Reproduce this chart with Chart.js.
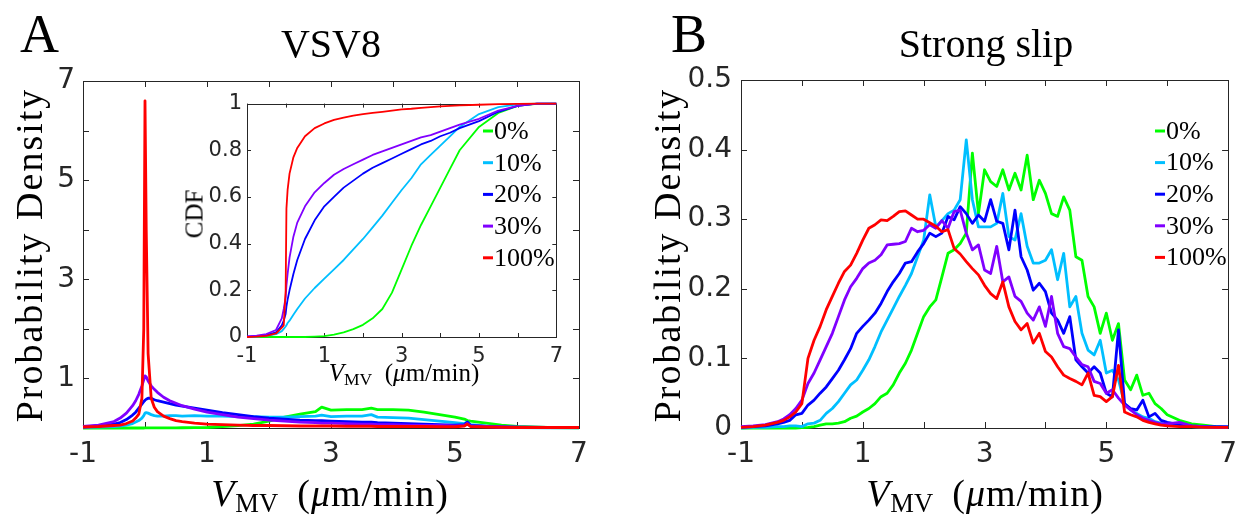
<!DOCTYPE html>
<html>
<head>
<meta charset="utf-8">
<script src="https://cdn.jsdelivr.net/npm/chart.js@4.4.0/dist/chart.umd.min.js"></script>
<style>
body { margin: 0; background: #fff; }
#fig { position: relative; width: 1247px; height: 518px; overflow: hidden; }
canvas { position: absolute; }
.t { position: absolute; font-family: 'Liberation Serif', 'Times New Roman', serif; color: #000; line-height: 1; white-space: nowrap; }
.letter { font-size: 54px; top: 7px; }
.title { font-size: 40px; top: 24px; transform: translateX(-50%); }
.ylab { font-size: 38px; letter-spacing: 2px; transform: translate(-50%, -50%) rotate(-90deg); top: 255px; }
.xlab { font-size: 38px; letter-spacing: 1px; top: 474px; transform: translateX(-50%); }
.xlab sub, .xin sub { font-size: 0.7em; vertical-align: -0.22em; letter-spacing: 0; }
.gap { margin-left: 0.5em; }
.xin { font-size: 25px; top: 360px; left: 404px; transform: translateX(-50%); }
.cdf { font-size: 25px; left: 194px; top: 214px; transform: translate(-50%, -50%) rotate(-90deg); }
</style>
</head>
<body>
<div id="fig">
  <canvas id="chartA" width="620" height="518" style="left:0;top:0"></canvas>
  <canvas id="chartInset" width="400" height="310" style="left:170px;top:86px"></canvas>
  <canvas id="chartB" width="627" height="518" style="left:620px;top:0"></canvas>

  <div class="t letter" style="left:20px">A</div>
  <div class="t letter" style="left:671px">B</div>
  <div class="t title" style="left:331px">VSV8</div>
  <div class="t title" style="left:986px">Strong slip</div>
  <div class="t ylab" style="left:29px">Probability Density</div>
  <div class="t ylab" style="left:667px">Probability Density</div>
  <div class="t xlab" style="left:330px"><i>V</i><sub>MV</sub><span class="gap">(<i>μ</i>m/min)</span></div>
  <div class="t xlab" style="left:985px"><i>V</i><sub>MV</sub><span class="gap">(<i>μ</i>m/min)</span></div>
  <div class="t xin"><i>V</i><sub>MV</sub><span class="gap">(<i>μ</i>m/min)</span></div>
  <div class="t cdf">CDF</div>
</div>

<script>
// series names / colors (same for all panels)
const seriesNames = ['0%', '10%', '20%', '30%', '100%'];
const seriesColors = ['#00ff00', '#00bfff', '#0000ff', '#8000ff', '#ff0000'];

// tick labels
const xTickLabels = [-1, 1, 3, 5, 7];
const yTickLabelsA = [1, 3, 5, 7];
const yTickLabelsInset = ['0', '0.2', '0.4', '0.6', '0.8', '1'];
const yTickLabelsB = ['0', '0.1', '0.2', '0.3', '0.4', '0.5'];

// panel A - probability density (VSV8)
const xA = [-1, -0.75, -0.5, -0.4, -0.3, -0.2, -0.15, -0.1, -0.05, -0.02, 0, 0.02, 0.05, 0.1, 0.15, 0.2, 0.3, 0.4, 0.5, 0.6, 0.8, 1,
  1.25, 1.5, 1.75, 2, 2.25, 2.5, 2.75, 2.85, 3, 3.25, 3.5, 3.65, 3.75, 4, 4.25, 4.5, 4.75, 5, 5.15, 5.2, 5.25, 5.5, 5.75, 6, 6.5, 7];
const pdfA0 = [0, 0, 0, 0, 0, 0, 0, 0, 0, 0, 0.001, 0.001, 0.001, 0.001, 0.001, 0.002, 0.002, 0.003, 0.004, 0.005, 0.007, 0.01,
  0.03, 0.05, 0.08, 0.14, 0.22, 0.28, 0.33, 0.42, 0.36, 0.37, 0.37, 0.4, 0.37, 0.37, 0.36, 0.32, 0.27, 0.22, 0.18, 0.15, 0.14, 0.1, 0.06, 0.03, 0.01, 0.002];
const pdfA10 = [0.01, 0.02, 0.03, 0.04, 0.06, 0.09, 0.12, 0.15, 0.2, 0.25, 0.3, 0.31, 0.3, 0.27, 0.25, 0.24, 0.24, 0.25, 0.25, 0.24, 0.25, 0.24,
  0.24, 0.23, 0.23, 0.22, 0.22, 0.23, 0.24, 0.26, 0.23, 0.24, 0.24, 0.27, 0.22, 0.21, 0.2, 0.17, 0.14, 0.11, 0.09, 0.12, 0.07, 0.04, 0.02, 0.01, 0.005, 0.002];
const pdfA20 = [0.02, 0.04, 0.08, 0.11, 0.17, 0.26, 0.32, 0.4, 0.48, 0.53, 0.56, 0.58, 0.6, 0.6, 0.57, 0.55, 0.52, 0.49, 0.46, 0.44, 0.4, 0.36,
  0.31, 0.27, 0.23, 0.2, 0.18, 0.16, 0.15, 0.15, 0.14, 0.13, 0.12, 0.12, 0.11, 0.1, 0.09, 0.08, 0.07, 0.06, 0.07, 0.12, 0.05, 0.03, 0.02, 0.015, 0.01, 0.01];
const pdfA30 = [0.03, 0.06, 0.13, 0.2, 0.3, 0.45, 0.55, 0.68, 0.85, 0.97, 1.05, 1.03, 0.95, 0.85, 0.78, 0.72, 0.62, 0.55, 0.5, 0.45, 0.38, 0.32,
  0.27, 0.22, 0.19, 0.16, 0.14, 0.12, 0.11, 0.1, 0.1, 0.09, 0.08, 0.08, 0.07, 0.07, 0.06, 0.05, 0.05, 0.04, 0.05, 0.09, 0.04, 0.03, 0.02, 0.015, 0.01, 0.01];
const pdfA100 = [0.02, 0.03, 0.05, 0.06, 0.09, 0.14, 0.2, 0.28, 0.6, 2.0, 6.6, 4.0, 1.5, 0.6, 0.42, 0.33, 0.24, 0.19, 0.15, 0.13, 0.1, 0.08,
  0.07, 0.06, 0.05, 0.05, 0.045, 0.04, 0.04, 0.04, 0.04, 0.035, 0.035, 0.035, 0.03, 0.03, 0.03, 0.03, 0.025, 0.025, 0.04, 0.08, 0.03, 0.02, 0.015, 0.01, 0.01, 0.01];

// panel A inset - CDF
const xC = [-1, -0.75, -0.5, -0.25, -0.1, -0.05, 0, 0.02, 0.05, 0.1, 0.2, 0.3, 0.5, 0.75, 1, 1.25, 1.5, 1.75, 2, 2.25, 2.5, 2.75,
  3, 3.25, 3.5, 3.75, 4, 4.25, 4.5, 5, 5.5, 6, 6.5, 7];
const cdf0 = [0, 0, 0, 0, 0, 0, 0, 0, 0, 0, 0, 0, 0, 0.002, 0.004, 0.01, 0.02, 0.034, 0.052, 0.08, 0.12, 0.19,
  0.29, 0.39, 0.48, 0.56, 0.64, 0.72, 0.8, 0.9, 0.96, 0.99, 0.999, 1];
const cdf10 = [0, 0.002, 0.005, 0.012, 0.025, 0.035, 0.045, 0.05, 0.06, 0.07, 0.095, 0.12, 0.165, 0.21, 0.25, 0.29, 0.33, 0.375, 0.42, 0.47, 0.52, 0.575,
  0.63, 0.68, 0.74, 0.78, 0.82, 0.86, 0.9, 0.955, 0.985, 0.997, 1, 1];
const cdf20 = [0.002, 0.004, 0.008, 0.02, 0.05, 0.07, 0.1, 0.13, 0.16, 0.2, 0.27, 0.33, 0.42, 0.5, 0.56, 0.6, 0.64, 0.67, 0.7, 0.725, 0.745, 0.765,
  0.785, 0.805, 0.825, 0.84, 0.86, 0.875, 0.895, 0.925, 0.965, 0.99, 1, 1];
const cdf30 = [0.003, 0.006, 0.012, 0.03, 0.08, 0.12, 0.17, 0.22, 0.27, 0.34, 0.43, 0.49, 0.56, 0.62, 0.66, 0.695, 0.72, 0.74, 0.76, 0.78, 0.795, 0.81,
  0.825, 0.84, 0.855, 0.865, 0.88, 0.895, 0.91, 0.935, 0.97, 0.99, 1, 1];
const cdf100 = [0, 0.002, 0.005, 0.015, 0.04, 0.05, 0.2, 0.55, 0.63, 0.7, 0.77, 0.81, 0.86, 0.895, 0.915, 0.93, 0.94, 0.948, 0.955, 0.96, 0.965, 0.97,
  0.975, 0.978, 0.982, 0.985, 0.988, 0.99, 0.992, 0.995, 0.998, 0.999, 1, 1];

// panel B - probability density (strong slip)
const xB = [-1, -0.8, -0.6, -0.4, -0.3, -0.2, -0.1,
  0, 0.1, 0.2, 0.3, 0.4, 0.5, 0.6, 0.7, 0.8, 0.9, 1, 1.1, 1.2, 1.3, 1.4, 1.5, 1.6, 1.7, 1.8, 1.9,
  2, 2.1, 2.2, 2.3, 2.4, 2.5, 2.6, 2.7, 2.8, 2.9, 3, 3.1, 3.2, 3.3, 3.4, 3.5, 3.6, 3.7, 3.8, 3.9,
  4, 4.1, 4.2, 4.3, 4.4, 4.5, 4.6, 4.7, 4.8, 4.9, 5, 5.1, 5.2, 5.3, 5.4, 5.5, 5.6, 5.7, 5.8, 5.9,
  6, 6.2, 6.4, 6.6, 6.8, 7];
const pdfB0 = [0, 0, 0, 0, 0, 0, 0,
  0.0005, 0.001, 0.002, 0.004, 0.006, 0.006, 0.007, 0.009, 0.014, 0.017, 0.023, 0.028, 0.035, 0.045, 0.05, 0.062, 0.079, 0.093, 0.112, 0.136,
  0.16, 0.174, 0.184, 0.217, 0.251, 0.256, 0.265, 0.28, 0.395, 0.308, 0.371, 0.354, 0.347, 0.371, 0.342, 0.366, 0.342, 0.392, 0.328, 0.356,
  0.337, 0.308, 0.304, 0.332, 0.313, 0.246, 0.241, 0.189, 0.174, 0.136, 0.165, 0.126, 0.15, 0.069, 0.055, 0.076, 0.047, 0.05, 0.035, 0.028,
  0.019, 0.011, 0.006, 0.004, 0.002, 0.001];
const pdfB10 = [0, 0.001, 0.001, 0.002, 0.002, 0.003, 0.003,
  0.002, 0.006, 0.007, 0.011, 0.021, 0.028, 0.038, 0.05, 0.062, 0.069, 0.083, 0.098, 0.117, 0.138, 0.155, 0.172, 0.189, 0.205, 0.222, 0.246,
  0.27, 0.335, 0.289, 0.298, 0.308, 0.313, 0.328, 0.414, 0.328, 0.289, 0.289, 0.289, 0.294, 0.337, 0.275, 0.27, 0.308, 0.261, 0.237, 0.237,
  0.241, 0.256, 0.213, 0.251, 0.174, 0.189, 0.136, 0.112, 0.105, 0.126, 0.079, 0.083, 0.069, 0.035, 0.026, 0.021, 0.016, 0.014, 0.009, 0.007,
  0.004, 0.003, 0.002, 0.001, 0.001, 0.001];
const pdfB20 = [0.001, 0.002, 0.003, 0.006, 0.008, 0.011, 0.019,
  0.021, 0.033, 0.04, 0.05, 0.059, 0.071, 0.083, 0.098, 0.114, 0.136, 0.146, 0.155, 0.165, 0.179, 0.196, 0.21, 0.222, 0.237, 0.239, 0.253,
  0.265, 0.28, 0.275, 0.28, 0.304, 0.299, 0.318, 0.308, 0.294, 0.306, 0.297, 0.328, 0.297, 0.294, 0.256, 0.313, 0.246, 0.227, 0.198, 0.208,
  0.196, 0.165, 0.155, 0.136, 0.16, 0.098, 0.088, 0.079, 0.088, 0.079, 0.05, 0.045, 0.141, 0.035, 0.028, 0.026, 0.04, 0.016, 0.021, 0.011,
  0.008, 0.005, 0.003, 0.002, 0.002, 0.002];
const pdfB30 = [0.002, 0.003, 0.005, 0.009, 0.013, 0.019, 0.028,
  0.04, 0.064, 0.079, 0.098, 0.117, 0.136, 0.16, 0.184, 0.203, 0.215, 0.229, 0.237, 0.241, 0.249, 0.263, 0.264, 0.265, 0.268, 0.287, 0.282,
  0.284, 0.292, 0.287, 0.298, 0.287, 0.311, 0.313, 0.28, 0.256, 0.263, 0.227, 0.222, 0.261, 0.21, 0.217, 0.189, 0.182, 0.165, 0.155, 0.174,
  0.146, 0.189, 0.136, 0.117, 0.114, 0.102, 0.091, 0.088, 0.067, 0.064, 0.05, 0.055, 0.043, 0.033, 0.026, 0.019, 0.014, 0.011, 0.008, 0.006,
  0.006, 0.008, 0.003, 0.002, 0.001, 0.001];
const pdfB100 = [0.001, 0.002, 0.004, 0.008, 0.011, 0.016, 0.023,
  0.035, 0.1, 0.126, 0.146, 0.17, 0.189, 0.208, 0.225, 0.234, 0.251, 0.27, 0.287, 0.292, 0.299, 0.298, 0.304, 0.311, 0.312, 0.306, 0.3,
  0.3, 0.295, 0.29, 0.282, 0.285, 0.258, 0.25, 0.239, 0.229, 0.22, 0.205, 0.193, 0.186, 0.21, 0.174, 0.153, 0.141, 0.15, 0.122, 0.136,
  0.11, 0.102, 0.088, 0.076, 0.071, 0.067, 0.062, 0.079, 0.047, 0.045, 0.038, 0.045, 0.09, 0.023, 0.019, 0.016, 0.011, 0.008, 0.006, 0.004,
  0.003, 0.002, 0.002, 0.001, 0.001, 0.001];

const axisColor = '#262626';
const sansFont = "'DejaVu Sans', 'Liberation Sans', sans-serif";
const serifFont = "'Liberation Serif', 'Times New Roman', serif";

function makeSets(xs, ys, width) {
  return ys.map(function(arr, i) {
    return {
      label: seriesNames[i],
      data: arr.map(function(v, j) { return { x: xs[j], y: v }; }),
      borderColor: seriesColors[i],
      borderWidth: width,
      borderJoinStyle: 'round',
      pointRadius: 0,
      tension: 0,
      fill: false,
      clip: false,
      order: ys.length - i
    };
  });
}

function fmt(v) {
  return String(Math.round(v * 10) / 10);
}

// x / y axis, labels only where the tick label list says so
function makeAxis(min, max, step, labels, size, pad, fitSize, isX) {
  return {
    type: 'linear',
    min: min,
    max: max,
    grid: { display: false, drawTicks: false },
    border: { display: false },
    ticks: {
      stepSize: step,
      autoSkip: false,
      maxRotation: 0,
      padding: pad,
      color: axisColor,
      font: { family: sansFont, size: size },
      callback: function(v) {
        const s = fmt(v);
        return labels.map(String).indexOf(s) >= 0 ? s : '';
      }
    },
    afterFit: function(scale) {
      if (isX) scale.height = fitSize; else scale.width = fitSize;
    }
  };
}

// box round the plot area with inward tick marks on all four sides
const boxTicks = {
  id: 'boxTicks',
  beforeDatasetsDraw(chart, args, opts) {
    const ctx = chart.ctx, a = chart.chartArea;
    const x = chart.scales.x, y = chart.scales.y;
    const L = opts.len || 6;
    ctx.save();
    if (opts.white) {
      ctx.fillStyle = '#fff';
      ctx.fillRect(a.left, a.top, a.right - a.left, a.bottom - a.top);
    }
    ctx.strokeStyle = axisColor;
    ctx.lineWidth = 1;
    ctx.beginPath();
    x.ticks.forEach(function(t) {
      const px = Math.round(x.getPixelForValue(t.value)) + 0.5;
      ctx.moveTo(px, a.bottom); ctx.lineTo(px, a.bottom - L);
      ctx.moveTo(px, a.top); ctx.lineTo(px, a.top + L);
    });
    y.ticks.forEach(function(t) {
      const py = Math.round(y.getPixelForValue(t.value)) + 0.5;
      ctx.moveTo(a.left, py); ctx.lineTo(a.left + L, py);
      ctx.moveTo(a.right, py); ctx.lineTo(a.right - L, py);
    });
    ctx.stroke();
    ctx.strokeRect(Math.round(a.left) + 0.5, Math.round(a.top) + 0.5, Math.round(a.right - a.left), Math.round(a.bottom - a.top));
    ctx.restore();
  }
};

// matlab-like legend inside the axes
const innerLegend = {
  id: 'innerLegend',
  afterDatasetsDraw(chart, args, opts) {
    if (!opts.show) return;
    const ctx = chart.ctx;
    ctx.save();
    ctx.font = '26px ' + serifFont;
    ctx.textBaseline = 'middle';
    chart.data.datasets.forEach(function(ds, i) {
      const yy = opts.y + i * opts.dy;
      ctx.strokeStyle = ds.borderColor;
      ctx.lineWidth = 3;
      ctx.beginPath();
      ctx.moveTo(opts.x, yy);
      ctx.lineTo(opts.x + 10, yy);
      ctx.stroke();
      ctx.fillStyle = '#000';
      ctx.fillText(ds.label, opts.x + 11, yy + 1);
    });
    ctx.restore();
  }
};

function baseOptions(xAxis, yAxis, padding, extra) {
  return {
    responsive: false,
    animation: false,
    layout: { padding: padding },
    scales: { x: xAxis, y: yAxis },
    plugins: {
      legend: { display: false },
      tooltip: { enabled: false },
      boxTicks: extra.box,
      innerLegend: extra.legend
    }
  };
}

// Panel A main
new Chart(document.getElementById('chartA').getContext('2d'), {
  type: 'line',
  data: { datasets: makeSets(xA, [pdfA0, pdfA10, pdfA20, pdfA30, pdfA100], 2.8) },
  options: baseOptions(
    makeAxis(-1, 7, 1, xTickLabels, 28, 10, 90, true),
    makeAxis(0, 7, 1, yTickLabelsA, 28, 8, 83, false),
    { left: 0, top: 81, right: 41, bottom: 0 },
    { box: { len: 6 }, legend: { show: false } }
  ),
  plugins: [boxTicks, innerLegend]
});

// Panel A inset (CDF)
new Chart(document.getElementById('chartInset').getContext('2d'), {
  type: 'line',
  data: { datasets: makeSets(xC, [cdf0, cdf10, cdf20, cdf30, cdf100], 1.8) },
  options: baseOptions(
    makeAxis(-1, 7, 1, xTickLabels, 21, 7, 59, true),
    makeAxis(0, 1, 0.2, yTickLabelsInset, 21, 5, 77, false),
    { left: 0, top: 10, right: 8, bottom: 0 },
    { box: { len: 4, white: true }, legend: { show: true, x: 313, y: 45, dy: 31.7 } }
  ),
  plugins: [boxTicks, innerLegend]
});

// Panel B
new Chart(document.getElementById('chartB').getContext('2d'), {
  type: 'line',
  data: { datasets: makeSets(xB, [pdfB0, pdfB10, pdfB20, pdfB30, pdfB100], 2.8) },
  options: baseOptions(
    makeAxis(-1, 7, 1, xTickLabels, 28, 10, 90, true),
    makeAxis(0, 0.5, 0.1, yTickLabelsB, 28, 9, 121, false),
    { left: 0, top: 80, right: 15, bottom: 0 },
    { box: { len: 6 }, legend: { show: true, x: 535, y: 131, dy: 31.6 } }
  ),
  plugins: [boxTicks, innerLegend]
});
</script>
</body>
</html>
